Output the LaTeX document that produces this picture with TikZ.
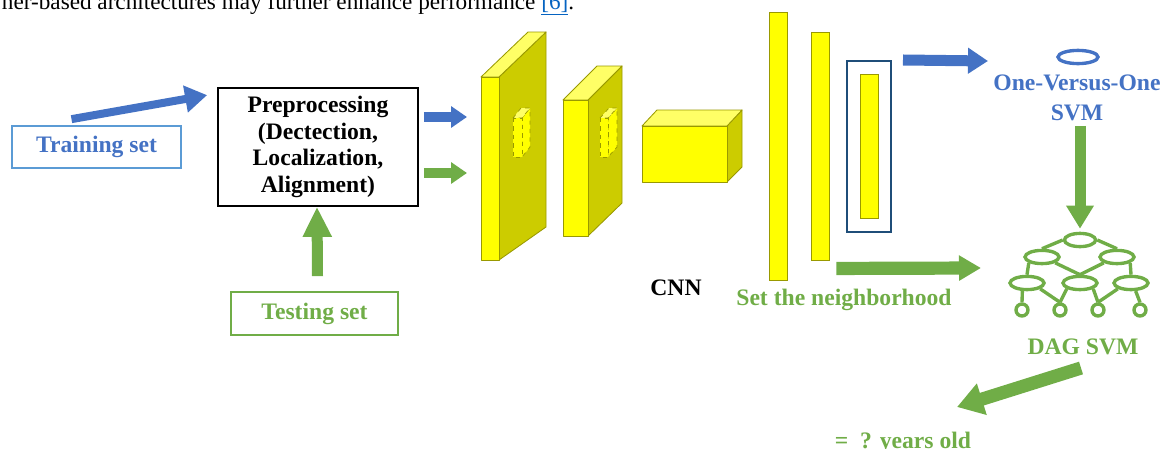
\documentclass[tikz,border=0pt]{standalone}
\usepackage{fontspec}
\setmainfont{Liberation Serif}
\usetikzlibrary{arrows.meta,calc,shapes.geometric}

\definecolor{tblue}{HTML}{4472C4}
\definecolor{lblue}{HTML}{5B9BD5}
\definecolor{dkblue}{HTML}{1F4E79}
\definecolor{linkblue}{HTML}{0563C1}
\definecolor{tgreen}{HTML}{70AD47}
\definecolor{yfront}{HTML}{FFFF00}
\definecolor{yside}{HTML}{CCCC00}
\definecolor{ytop}{HTML}{FFFF66}
\definecolor{yedge}{HTML}{999900}

\begin{document}
\begin{tikzpicture}[x=0.025cm,y=-0.025cm,
  every node/.style={font=\fontsize{16.8}{18.8}\selectfont\bfseries},
  slab/.style={draw=yedge,line width=0.6pt,line join=round},
  inslab/.style={draw=yedge,line width=0.5pt,dashed,line join=round},
  bar/.style={draw=yedge,fill=yfront,line width=0.6pt,minimum width=0.45cm,inner sep=0},
  fat/.style n args={3}{line width=#1,-{Triangle[length=#2,width=#3]}},
  dag/.style={ellipse,draw=tgreen,line width=2.4pt,minimum width=0.85cm,minimum height=0.33cm,inner sep=0},
  leaf/.style={circle,draw=tgreen,line width=2.4pt,minimum size=0.3cm,inner sep=0},
  dagline/.style={tgreen,line width=2.4pt}]
\useasboundingbox (0,0) rectangle (1166,448);

\node(toptext)[anchor=base west,font=\fontsize{16.5}{19}\selectfont] at (-3,9) {ner-based architectures may further enhance performance \textcolor{linkblue}{\underline{[6]}}.};

\node(train)[draw=lblue,line width=1.2pt,text=tblue,minimum width=4.225cm,minimum height=1.05cm] at (96.5,147){Training set};
\node(prep)[draw,line width=1.2pt,minimum width=5cm,minimum height=2.95cm,align=center] at (318,147){Preprocessing\\(Dectection,\\Localization,\\Alignment)};
\node(test)[draw=tgreen,line width=1.2pt,text=tgreen,minimum width=4.175cm,minimum height=1.075cm] at (314.5,313.5){Testing set};

% CNN layers
\filldraw[slab,fill=yside] (499,77) -- (546,32) -- (546,227) -- (499,260) -- cycle;
\filldraw[slab,fill=ytop] (481,77) -- (528,32) -- (546,32) -- (499,77) -- cycle;
\filldraw[slab,fill=yfront] (481,77) rectangle (499,260);
\coordinate(l1) at (481,77);
\filldraw[inslab,fill=yfront] (522,118) -- (530,108) -- (530,147) -- (522,157) -- cycle;
\filldraw[inslab,fill=ytop] (513,118) -- (521,108) -- (530,108) -- (522,118) -- cycle;
\filldraw[inslab,fill=yfront] (513,118) rectangle (522,157);

\filldraw[slab,fill=yside] (588,100) -- (622,66) -- (622,203) -- (588,236) -- cycle;
\filldraw[slab,fill=ytop] (563,100) -- (597,66) -- (622,66) -- (588,100) -- cycle;
\filldraw[slab,fill=yfront] (563,100) rectangle (588,236);
\filldraw[inslab,fill=yfront] (608,118) -- (617,108) -- (617,147) -- (608,157) -- cycle;
\filldraw[inslab,fill=ytop] (600,118) -- (609,108) -- (617,108) -- (608,118) -- cycle;
\filldraw[inslab,fill=yfront] (600,118) rectangle (608,157);

\filldraw[slab,fill=yside] (727,126) -- (742,110) -- (742,167) -- (727,182) -- cycle;
\filldraw[slab,fill=ytop] (642,126) -- (657,110) -- (742,110) -- (727,126) -- cycle;
\filldraw[slab,fill=yfront] (642,126) rectangle (727,182);

\node(bar1)[bar,minimum height=6.7cm] at (778,146){};
\node(bar2)[bar,minimum height=5.7cm] at (820,146){};
\node(fc)[draw=dkblue,line width=1.4pt,minimum width=1.1cm,minimum height=4.275cm,inner sep=0] at (869,146.5){};
\node(bar3)[bar,minimum height=3.6cm] at (869,146){};

\node(cnn) at (676,288){CNN};
\node(nbr)[text=tgreen] at (844,300){Set the neighborhood};

% SVM part
\node(ovo)[ellipse,draw=tblue,line width=2.4pt,minimum width=1cm,minimum height=0.33cm,inner sep=0] at (1078,57){};
\node(ovo1)[text=tblue] at (1077,83){One-Versus-One};
\node(svm1)[text=tblue] at (1077,113){SVM};

\node(d0)[dag,minimum width=0.78cm] at (1080,240){};
\node(d1)[dag] at (1042,257){};
\node(d2)[dag] at (1117,257){};
\node(d3)[dag] at (1027,283){};
\node(d4)[dag] at (1080,283){};
\node(d5)[dag] at (1131,283){};
\node(e1)[leaf] at (1022,310){};
\node(e2)[leaf] at (1060,310){};
\node(e3)[leaf] at (1098,310){};
\node(e4)[leaf] at (1140,310){};
\draw[dagline] (d0.west) -- (d1.north);
\draw[dagline] (d0.east) -- (d2.north);
\draw[dagline] (d1.south west) -- (d3.north);
\draw[dagline] (d1.south east) -- (d4.north);
\draw[dagline] (d2.south west) -- (d4.north);
\draw[dagline] (d2.south east) -- (d5.north);
\draw[dagline] (d3.240) -- (e1.north);
\draw[dagline] (d3.south east) -- (e2.north);
\draw[dagline] (d4.south west) -- (e2.north);
\draw[dagline] (d4.south east) -- (e3.north);
\draw[dagline] (d5.south west) -- (e3.north);
\draw[dagline] (d5.-60) -- (e4.north);

\node(dagtxt)[text=tgreen] at (1083,347){DAG SVM};
\node(age)[text=tgreen] at (903,443){=\ \ ? years old};

\coordinate(ovoin) at (988,61);
\coordinate(dagin) at (981,268);
\coordinate(dagout) at (1081,368);
\coordinate(agein) at (957,407);

% arrows
\draw[tblue,fat={0.2cm}{0.55cm}{0.65cm}] ($(train.north)+(-25,-6)$) -- ($(prep.north west)+(-10,8)$);
\draw[tgreen,fat={0.275cm}{0.75cm}{0.68cm}] ($(test.north)+(3,-15)$) -- ($(prep.south)+(-1,0)$);
\draw[tblue,fat={0.24cm}{0.4cm}{0.52cm}] ($(prep.east)+(5,-30)$) -- ($(prep.east -| l1)+(-14,-30)$);
\draw[tgreen,fat={0.24cm}{0.4cm}{0.52cm}] ($(prep.east)+(5,26)$) -- ($(prep.east -| l1)+(-14,26)$);
\draw[tblue,fat={0.275cm}{0.5cm}{0.62cm}] ($(fc.north east)+(11,0)$) -- (ovoin);
\draw[tgreen,fat={0.33cm}{0.55cm}{0.6cm}] ($(bar2.south east)+(7,8)$) -- (dagin);
\draw[tgreen,fat={0.275cm}{0.58cm}{0.66cm}] (svm1.south -| d0.north) -- ($(d0.north)+(0,-3)$);
\draw[tgreen,fat={0.33cm}{0.65cm}{0.78cm}] (dagout) -- (agein);
\end{tikzpicture}
\end{document}
